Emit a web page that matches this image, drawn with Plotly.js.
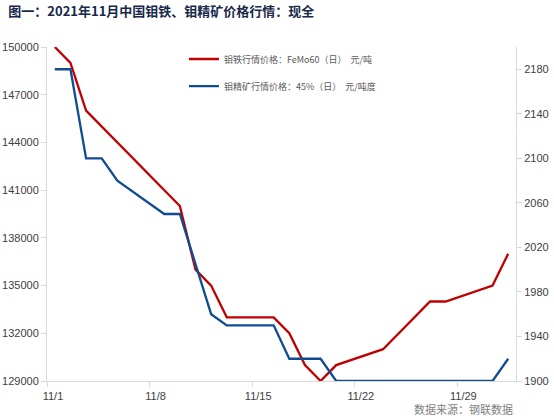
<!DOCTYPE html>
<html>
<head>
<meta charset="utf-8">
<script src="https://cdn.plot.ly/plotly-3.0.1.min.js"></script>
<style>html,body{margin:0;padding:0;background:#fff;}#chart{width:554px;height:419px;}</style>
</head>
<body>
<div id="chart"></div>
<script>
// ---- data ----
const dates = [
  '2021-11-01','2021-11-02','2021-11-03','2021-11-04','2021-11-05','2021-11-06',
  '2021-11-07','2021-11-08','2021-11-09','2021-11-10','2021-11-11','2021-11-12',
  '2021-11-13','2021-11-14','2021-11-15','2021-11-16','2021-11-17','2021-11-18',
  '2021-11-19','2021-11-20','2021-11-21','2021-11-22','2021-11-23','2021-11-24',
  '2021-11-25','2021-11-26','2021-11-27','2021-11-28','2021-11-29','2021-11-30'
];
// 钼铁 FeMo60 (元/吨), left axis
const femoPrice = [
  150000,149000,146000,null,null,null,
  null,null,140000,136000,135000,133000,
  null,null,133000,132000,130000,129000,
  130000,null,null,131000,null,null,
  134000,134000,null,null,135000,137000
];
// 钼精矿 45% (元/吨度), right axis
const orePrice = [
  2180,2180,2100,2100,2080,null,
  null,2050,2050,2005,1960,1950,
  null,null,1950,1920,1920,1920,
  1900,null,null,1900,1900,1900,
  1900,1900,null,null,1900,1920
];
const tickLabels = ['11/1','11/8','11/15','11/22','11/29'];
const femoName = '钼铁行情价格：FeMo60（日）  元/吨';
const oreName = '钼精矿行情价格：45%（日）  元/吨度';
const titleText = '图一：2021年11月中国钼铁、钼精矿价格行情：现全';
const sourceText = '数据来源：钢联数据';

// x range: each day occupies one cell, point centred in cell
const xStart = Date.UTC(2021,9,31,12);
const xEnd = Date.UTC(2021,10,30,12);
const dayMs = 86400000;
const tickStep = 7 * 30 / 32 * dayMs;
const tickVals = tickLabels.map((_, i) => new Date(xStart + i * tickStep).toISOString());

const axisColor = '#d9d9d9';
const tickFont = {family: 'Liberation Sans, Arial, sans-serif', size: 11, color: '#404040'};

const traces = [
  {x: dates, y: femoPrice, name: femoName, type: 'scatter', mode: 'lines',
   connectgaps: true, line: {color: '#C00000', width: 2.3}, yaxis: 'y', legend: 'legend'},
  {x: dates, y: orePrice, name: oreName, type: 'scatter', mode: 'lines',
   connectgaps: true, line: {color: '#0F4C91', width: 2.3}, yaxis: 'y2', legend: 'legend2'}
];

const legendFont = {family: 'Noto Sans CJK SC, sans-serif', size: 9, color: '#595959'};

const layout = {
  width: 554, height: 419,
  margin: {l: 47, r: 38, t: 47, b: 38, pad: 0},
  paper_bgcolor: '#fff', plot_bgcolor: '#fff',
  showlegend: true,
  title: {text: titleText, x: 0.015, xref: 'container', xanchor: 'left',
          y: 0.972, yref: 'container', yanchor: 'middle',
          font: {family: 'Noto Sans CJK SC, sans-serif', size: 13, color: '#17284a', weight: 'bold'}},
  xaxis: {type: 'date', range: [new Date(xStart).toISOString(), new Date(xEnd).toISOString()],
          tickmode: 'array', tickvals: tickVals, ticktext: tickLabels,
          ticks: 'outside', ticklen: 5, tickcolor: axisColor, tickwidth: 1,
          showline: true, linecolor: axisColor, linewidth: 1,
          showgrid: false, zeroline: false, ticklabelshift: 6, tickfont: tickFont},
  yaxis: {range: [129000, 150000], tick0: 129000, dtick: 3000, tickformat: 'd',
          ticks: 'outside', ticklen: 5, tickcolor: axisColor,
          showline: true, linecolor: axisColor, linewidth: 1,
          showgrid: false, zeroline: false, tickfont: tickFont},
  yaxis2: {range: [1900, 2200], overlaying: 'y', side: 'right', anchor: 'x',
          tickmode: 'array', tickvals: [1900,1940,1980,2020,2060,2100,2140,2180],
          ticks: 'outside', ticklen: 5, tickcolor: axisColor, tickformat: 'd',
          showline: true, linecolor: axisColor, linewidth: 1,
          showgrid: false, zeroline: false, tickfont: tickFont},
  legend: {x: 0.292, y: 0.964, xanchor: 'left', yanchor: 'middle', bgcolor: 'rgba(0,0,0,0)',
           font: legendFont, itemwidth: 30},
  legend2: {x: 0.292, y: 0.883, xanchor: 'left', yanchor: 'middle', bgcolor: 'rgba(0,0,0,0)',
           font: legendFont, itemwidth: 30},
  annotations: [{text: sourceText, xref: 'paper', yref: 'paper', x: 0.998, y: -0.084,
                 xanchor: 'right', yanchor: 'middle', showarrow: false,
                 font: {family: 'Noto Sans CJK SC, sans-serif', size: 11, color: '#7f7f7f'}}]
};

Plotly.newPlot('chart', traces, layout, {displayModeBar: false, staticPlot: true});
</script>
</body>
</html>
